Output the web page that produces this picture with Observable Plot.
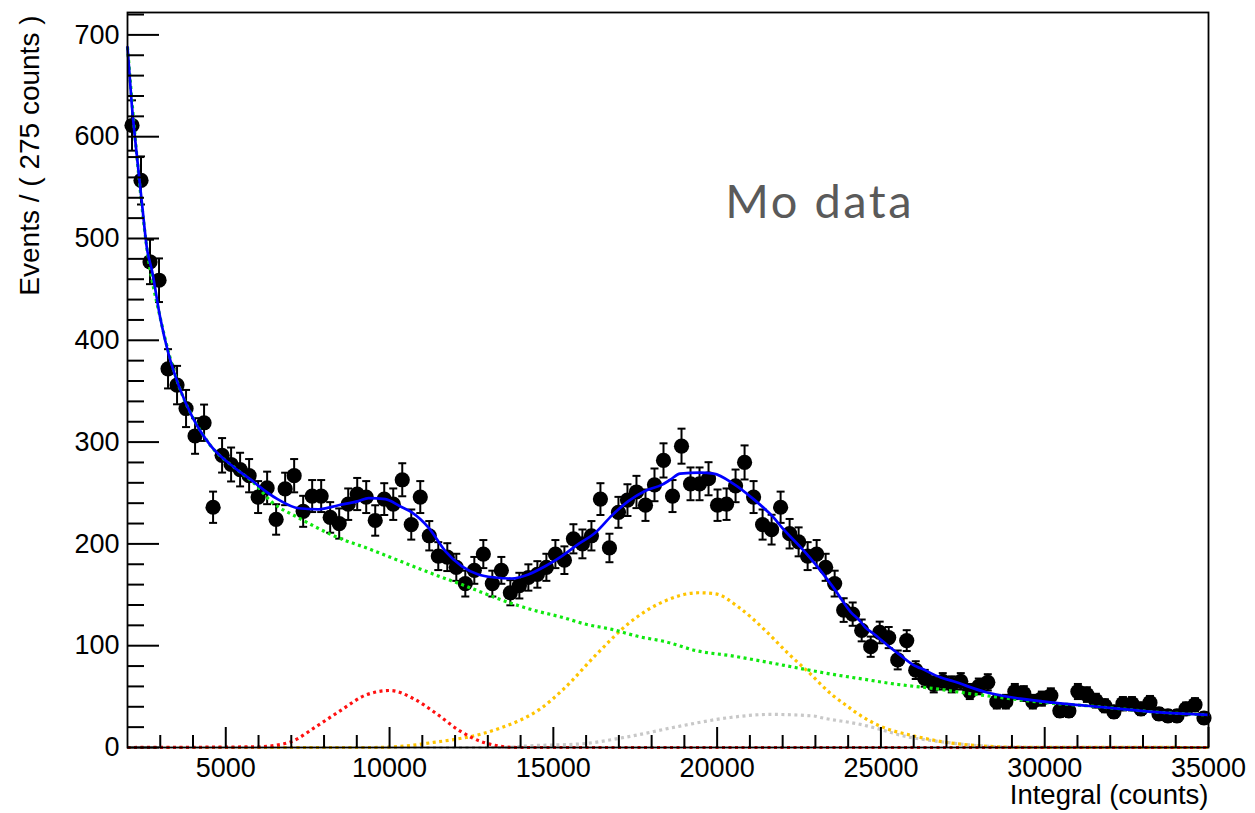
<!DOCTYPE html>
<html>
<head>
<meta charset="utf-8">
<script src="https://cdn.jsdelivr.net/npm/d3@7"></script>
<script src="https://cdn.jsdelivr.net/npm/@observablehq/plot@0.6"></script>
<style>
  html, body { margin: 0; padding: 0; background: #ffffff; }
  #chart svg { display: block; }
</style>
</head>
<body>
<div id="chart"></div>
<script>
// ---------------- data ----------------
const binStart = 2000;
const binWidth = 275;
const counts = [
  611, 557, 477, 459, 372, 356, 333, 306, 319, 236,
  287, 278, 273, 267, 246, 255, 224, 254, 267, 232,
  247, 247, 226, 220, 239, 249, 246, 223, 244, 239,
  263, 219, 246, 208, 188, 187, 177, 161, 174, 190,
  161, 174, 152, 159, 167, 170, 177, 190, 184, 205,
  200, 208, 244, 196, 231, 243, 251, 238, 258, 282,
  247, 296, 259, 259, 264, 238, 239, 257, 280, 246,
  219, 214, 236, 210, 202, 188, 190, 177, 161, 135,
  131, 115, 99, 113, 108, 86, 105, 76, 68, 62,
  65, 62, 65, 55, 60, 64, 45, 45, 55, 53,
  45, 48, 51, 36, 36, 55, 52, 46, 41, 35,
  43, 43, 38, 44, 33, 31, 31, 38, 42, 29
];

// total fit (blue)
const fitX = [2000, 2130, 2280, 2440, 2590, 2750, 3000, 3250, 3580, 3990, 4550, 5260, 5850, 6000, 6580, 7220, 7830, 8440, 9050, 9360, 9870, 10320, 10680, 11190, 11700, 12210, 12710, 13220, 13730, 14240, 14750, 15260, 15770, 16280, 16790, 17290, 17800, 18310, 18570, 18870, 19480, 19890, 20500, 21110, 21720, 21980, 22540, 23150, 23550, 24080, 24370, 24520, 24770, 25030, 25180, 25540, 26050, 26200, 26810, 27210, 28240, 29250, 30270, 31290, 32310, 33320, 34340, 35000];
const fitY = [688, 632, 583, 535, 491, 468, 422, 387, 354, 324, 296, 275, 261, 257, 244, 235, 234, 238, 242, 245, 244, 237, 231, 216, 193, 178, 170, 167, 166, 170, 178, 188, 200, 211, 228, 242, 252, 258, 263, 269, 270, 269, 259, 244, 226, 216, 197, 174, 157, 133, 124, 118, 112, 105, 101, 92, 80, 78, 69, 65, 54, 48, 44, 41, 38, 35, 33, 32];

// background component (green)
const bkgX = [2000, 2280, 2590, 3000, 3580, 4000, 4550, 5260, 5850, 6410, 7200, 8440, 9300, 10250, 11200, 12210, 13680, 14500, 15260, 16000, 16790, 17600, 18410, 19380, 20450, 21500, 22480, 23500, 24490, 25500, 26600, 27700, 28690, 30020, 31290, 32310, 33320, 34340, 35000];
const bkgY = [688, 583, 491, 422, 354, 324, 296, 275, 260, 241, 226, 206, 196, 184, 172, 160, 142, 134, 128, 121, 116, 109, 104, 95, 90, 84, 78, 72, 67, 62, 58, 53, 49, 44, 41, 38, 35, 33, 32];

// first peak (red)
const peak1X = [2000, 6050, 6500, 7020, 7780, 8490, 9310, 10020, 10730, 11440, 12160, 12870, 13890, 35000];
const peak1Y = [0, 0.7, 2, 6, 21, 36, 52, 56, 48, 33, 16, 5, 0, 0];

// second peak (yellow)
const peak2X = [2000, 9500, 10500, 11340, 12000, 12650, 13370, 14000, 14600, 15300, 16330, 17340, 18410, 19420, 19940, 20650, 21470, 22180, 22790, 23500, 23960, 24210, 24980, 25990, 27010, 28030, 29000, 35000];
const peak2Y = [0, 0, 1.5, 5, 8, 12, 19, 27, 38, 57, 92, 123, 144, 152, 151, 138, 115, 92, 74, 52, 41, 35, 21, 11.5, 5, 1.7, 0.3, 0];

// third peak (gray)
const peak3X = [2000, 13500, 14290, 15820, 17350, 18870, 20400, 21620, 22940, 23150, 24470, 25180, 25490, 27010, 28030, 29000, 35000];
const peak3Y = [0, 0, 1.7, 3.5, 11, 21, 29.5, 32.5, 31, 29.5, 22, 16, 13, 5, 1.7, 0.3, 0];

// axes
const xTicks = [5000, 10000, 15000, 20000, 25000, 30000, 35000];
const yTicks = [0, 100, 200, 300, 400, 500, 600, 700];
const xMinor = d3.range(3000, 35001, 1000).filter(v => v % 5000 !== 0);
const yMinor = d3.range(20, 721, 20).filter(v => v % 100 !== 0);
const xTitle = "Integral (counts)";
const yTitle = "Events / ( 275 counts )";

const noteX = [20250];
const noteY = [535];
const noteText = ["Mo data"];

// ---------------- build ----------------
const bins = counts.map((c, i) => ({x: binStart + binWidth * (i + 0.5), c}));
const toRows = (xs, ys) => xs.map((x, i) => ({x, y: ys[i]}));
const fit = toRows(fitX, fitY);
const bkg = toRows(bkgX, bkgY);
const p1 = toRows(peak1X, peak1Y);
const p2 = toRows(peak2X, peak2Y);
const p3 = toRows(peak3X, peak3Y);
const notes = noteText.map((t, i) => ({t, x: noteX[i], y: noteY[i]}));

const W = 1255, H = 813, mt = 12, mb = 66, ml = 127, mr = 47;
const innerW = W - ml - mr, innerH = H - mt - mb;

const hbar = {draw(ctx, size) { const w = Math.sqrt(size / Math.PI); ctx.moveTo(-w, 0); ctx.lineTo(w, 0); }};
const dotted = {strokeWidth: 3.2, strokeDasharray: "3 3.5", strokeLinecap: "butt", curve: "monotone-x"};

const chart = Plot.plot({
  width: W, height: H,
  marginTop: mt, marginBottom: mb, marginLeft: ml, marginRight: mr,
  x: {domain: [2000, 35000]},
  y: {domain: [0, 722]},
  style: {fontFamily: "'Liberation Sans', Arial, Helvetica, sans-serif", background: "#ffffff", color: "#000"},
  marks: [
    // error bars
    Plot.ruleX(bins, {x: "x", y1: d => d.c - Math.sqrt(d.c), y2: d => d.c + Math.sqrt(d.c), stroke: "#000", strokeWidth: 2}),
    Plot.dot(bins, {x: "x", y: d => d.c - Math.sqrt(d.c), symbol: hbar, r: 4, stroke: "#000", strokeWidth: 2, fill: "none"}),
    Plot.dot(bins, {x: "x", y: d => d.c + Math.sqrt(d.c), symbol: hbar, r: 4, stroke: "#000", strokeWidth: 2, fill: "none"}),
    // points
    Plot.dot(bins, {x: "x", y: "c", r: 7.6, fill: "#000", stroke: "none"}),
    // components
    Plot.line(p3, {x: "x", y: "y", stroke: "#c8c8c8", ...dotted}),
    Plot.line(p2, {x: "x", y: "y", stroke: "#ffc400", ...dotted}),
    Plot.line(p1, {x: "x", y: "y", stroke: "#ff1010", ...dotted}),
    Plot.line(bkg, {x: "x", y: "y", stroke: "#10e810", ...dotted}),
    // total
    Plot.line(fit, {x: "x", y: "y", stroke: "#0000ff", strokeWidth: 2.7, curve: "monotone-x"}),
    // frame
    Plot.frame({stroke: "#000", strokeWidth: 1.8}),
    // ticks (inward)
    Plot.tickX(xTicks, {x: d => d, insetTop: innerH - 20, stroke: "#000", strokeWidth: 2}),
    Plot.tickX(xMinor, {x: d => d, insetTop: innerH - 12, stroke: "#000", strokeWidth: 2}),
    Plot.tickY(yTicks, {y: d => d, insetRight: innerW - 32, stroke: "#000", strokeWidth: 2}),
    Plot.tickY(yMinor, {y: d => d, insetRight: innerW - 17, stroke: "#000", strokeWidth: 2}),
    // tick labels
    Plot.axisX(xTicks, {tickSize: 0, tickPadding: 10, fontSize: 27, tickFormat: d => String(d), label: null}),
    Plot.axisY(yTicks, {tickSize: 0, tickPadding: 8, fontSize: 27, tickFormat: d => String(d), label: null}),
    // axis titles
    Plot.text([xTitle], {text: d => d, frameAnchor: "bottom-right", textAnchor: "end", dy: 56, fontSize: 27.5, fill: "#000"}),
    Plot.text([yTitle], {text: d => d, frameAnchor: "top-left", textAnchor: "end", rotate: -90, dx: -108, dy: 3, fontSize: 28, fill: "#000"}),
    // annotation
    Plot.text(notes, {x: "x", y: "y", text: "t", textAnchor: "start", fontSize: 47, fill: "#5a5a5a", fontFamily: "Lato, 'Open Sans', sans-serif"})
  ]
});
d3.select(chart).selectAll("text").filter(function () { return this.textContent === "Mo data"; }).attr("letter-spacing", "2.5px");
document.getElementById("chart").appendChild(chart);
</script>
</body>
</html>
